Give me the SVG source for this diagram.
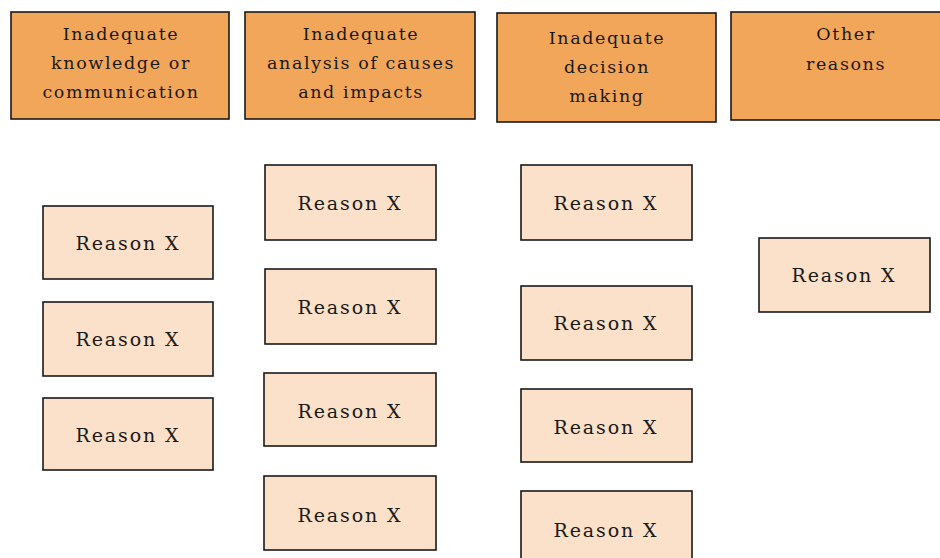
<svg xmlns="http://www.w3.org/2000/svg" width="940" height="558" viewBox="0 0 940 558">
  <style>
    .head rect { fill: #F2A65A; stroke: #1a1a1a; stroke-width: 1.6; }
    .item rect { fill: #FBE1C9; stroke: #1a1a1a; stroke-width: 1.6; }
    text { font-family: "DejaVu Serif", "Liberation Serif", serif; fill: #1a1a1a; text-anchor: middle; }
    .head text { font-size: 17.5px; letter-spacing: 1.6px; }
    .item text { font-size: 19px; letter-spacing: 1.9px; }
  </style>

  <!-- Category headers -->
  <g id="cat-knowledge" class="head">
    <rect x="11" y="12" width="218" height="107"/>
    <text x="121" y="40">Inadequate</text>
    <text x="121" y="69">knowledge or</text>
    <text x="121" y="98">communication</text>
  </g>
  <g id="cat-analysis" class="head">
    <rect x="245" y="12" width="230" height="107"/>
    <text x="361" y="40">Inadequate</text>
    <text x="361" y="69">analysis of causes</text>
    <text x="361" y="98">and impacts</text>
  </g>
  <g id="cat-decision" class="head">
    <rect x="497" y="13" width="219" height="109"/>
    <text x="607" y="44">Inadequate</text>
    <text x="607" y="73">decision</text>
    <text x="607" y="102">making</text>
  </g>
  <g id="cat-other" class="head">
    <rect x="731" y="12" width="228" height="108"/>
    <text x="846" y="40">Other</text>
    <text x="846" y="70">reasons</text>
  </g>

  <!-- Column 1 items -->
  <g id="r1-1" class="item"><rect x="43" y="206" width="170" height="73"/><text x="128" y="250">Reason X</text></g>
  <g id="r1-2" class="item"><rect x="43" y="302" width="170" height="74"/><text x="128" y="346">Reason X</text></g>
  <g id="r1-3" class="item"><rect x="43" y="398" width="170" height="72"/><text x="128" y="442">Reason X</text></g>

  <!-- Column 2 items -->
  <g id="r2-1" class="item"><rect x="265" y="165" width="171" height="75"/><text x="350" y="210">Reason X</text></g>
  <g id="r2-2" class="item"><rect x="265" y="269" width="171" height="75"/><text x="350" y="314">Reason X</text></g>
  <g id="r2-3" class="item"><rect x="264" y="373" width="172" height="73"/><text x="350" y="418">Reason X</text></g>
  <g id="r2-4" class="item"><rect x="264" y="476" width="172" height="74"/><text x="350" y="522">Reason X</text></g>

  <!-- Column 3 items -->
  <g id="r3-1" class="item"><rect x="521" y="165" width="171" height="75"/><text x="606" y="210">Reason X</text></g>
  <g id="r3-2" class="item"><rect x="521" y="286" width="171" height="74"/><text x="606" y="330">Reason X</text></g>
  <g id="r3-3" class="item"><rect x="521" y="389" width="171" height="73"/><text x="606" y="434">Reason X</text></g>
  <g id="r3-4" class="item"><rect x="521" y="491" width="171" height="74"/><text x="606" y="537">Reason X</text></g>

  <!-- Column 4 items -->
  <g id="r4-1" class="item"><rect x="759" y="238" width="171" height="74"/><text x="844" y="282">Reason X</text></g>

  <!-- No connectors in this layout -->
  <g id="connectors"/>
</svg>
